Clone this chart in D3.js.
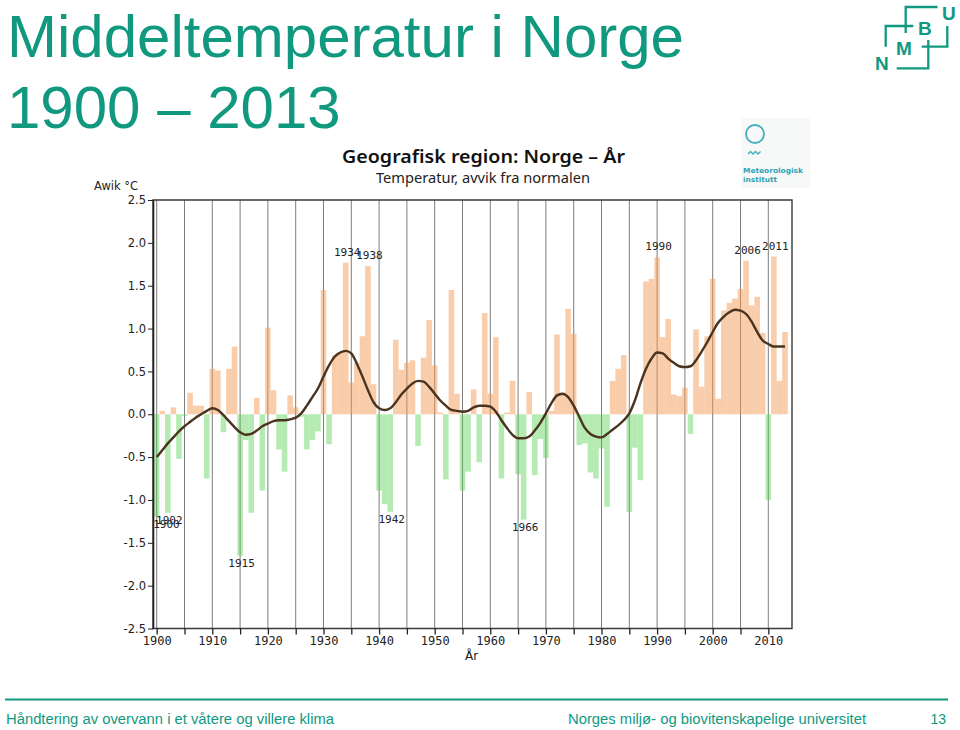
<!DOCTYPE html>
<html><head><meta charset="utf-8">
<script src="https://cdn.jsdelivr.net/npm/d3@7"></script>
<style>html,body{margin:0;padding:0;background:#fff;}svg{display:block;}</style>
</head><body>
<script>
// ---------- data ----------
const years = [
 1900,1901,1902,1903,1904,1905,1906,1907,1908,1909,
 1910,1911,1912,1913,1914,1915,1916,1917,1918,1919,
 1920,1921,1922,1923,1924,1925,1926,1927,1928,1929,
 1930,1931,1932,1933,1934,1935,1936,1937,1938,1939,
 1940,1941,1942,1943,1944,1945,1946,1947,1948,1949,
 1950,1951,1952,1953,1954,1955,1956,1957,1958,1959,
 1960,1961,1962,1963,1964,1965,1966,1967,1968,1969,
 1970,1971,1972,1973,1974,1975,1976,1977,1978,1979,
 1980,1981,1982,1983,1984,1985,1986,1987,1988,1989,
 1990,1991,1992,1993,1994,1995,1996,1997,1998,1999,
 2000,2001,2002,2003,2004,2005,2006,2007,2008,2009,
 2010,2011,2012,2013];
const anomaly = [
 -1.20,0.04,-1.15,0.08,-0.52,-0.02,0.25,0.10,0.10,-0.75,
 0.53,0.51,-0.21,0.53,0.79,-1.65,-0.30,-1.15,0.19,-0.89,
 1.01,0.28,-0.41,-0.67,0.22,0.08,-0.03,-0.41,-0.30,-0.20,
 1.45,-0.35,0.69,0.72,1.77,0.37,0.60,0.91,1.73,0.35,
 -0.89,-1.05,-1.14,0.87,0.52,0.60,0.63,-0.37,0.66,1.10,
 0.57,0.02,-0.76,1.45,0.24,-0.89,-0.67,0.29,-0.56,1.18,
 0.24,0.90,-0.75,0.02,0.39,-0.70,-1.23,0.26,-0.71,-0.29,
 -0.51,0.04,0.93,0.25,1.23,0.94,-0.36,-0.34,-0.68,-0.75,
 -0.40,-1.08,0.39,0.53,0.69,-1.14,-0.39,-0.77,1.55,1.58,
 1.83,0.90,1.11,0.23,0.21,0.31,-0.23,0.99,0.32,0.91,
 1.58,0.18,1.21,1.30,1.35,1.46,1.79,1.27,1.37,0.95,
 -1.00,1.84,0.39,0.96];
const smoothed = [
 -0.50,-0.42,-0.34,-0.27,-0.20,-0.14,-0.09,-0.04,0.00,0.04,
 0.07,0.05,-0.01,-0.08,-0.15,-0.21,-0.24,-0.23,-0.19,-0.14,
 -0.11,-0.08,-0.07,-0.07,-0.06,-0.04,0.01,0.10,0.20,0.30,
 0.44,0.57,0.67,0.72,0.74,0.71,0.59,0.44,0.28,0.14,
 0.07,0.05,0.07,0.14,0.23,0.30,0.36,0.39,0.38,0.32,
 0.24,0.16,0.10,0.05,0.04,0.03,0.04,0.08,0.10,0.10,
 0.09,0.03,-0.07,-0.16,-0.24,-0.28,-0.28,-0.26,-0.19,-0.10,
 0.01,0.13,0.22,0.24,0.20,0.10,-0.03,-0.16,-0.23,-0.26,
 -0.27,-0.23,-0.18,-0.13,-0.07,0.01,0.16,0.36,0.53,0.65,
 0.72,0.71,0.65,0.60,0.56,0.55,0.56,0.63,0.73,0.84,
 0.96,1.07,1.14,1.19,1.22,1.21,1.17,1.08,0.96,0.86,
 0.82,0.79,0.79,0.79];
const yTicks = [-2.5,-2.0,-1.5,-1.0,-0.5,0.0,0.5,1.0,1.5,2.0,2.5];
const yTickLabels = ["-2.5","-2.0","-1.5","-1.0","-0.5","0.0","0.5","1.0","1.5","2.0","2.5"];
const gridYears = [1900,1905,1910,1915,1920,1925,1930,1935,1940,1945,1950,1955,1960,1965,1970,1975,1980,1985,1990,1995,2000,2005,2010];
const xLabelYears = [1900,1910,1920,1930,1940,1950,1960,1970,1980,1990,2000,2010];
const extremeYears = [1900,1902,1915,1934,1938,1942,1966,1990,2006,2011];

const slideTitle = ["Middeltemperatur i Norge","1900 \u2013 2013"];
const chartTitle = "Geografisk region: Norge \u2013 \u00c5r";
const chartSubtitle = "Temperatur, avvik fra normalen";
const yAxisTitle = "Awik \u00b0C";
const xAxisTitle = "\u00c5r";
const footerLeft = "H\u00e5ndtering av overvann i et v\u00e5tere og villere klima";
const footerRight = "Norges milj\u00f8- og biovitenskapelige universitet";
const pageNo = "13";

// ---------- drawing ----------
const teal = "#10997f";
const svg = d3.select("body").append("svg").attr("width",960).attr("height",730);
svg.append("rect").attr("width",960).attr("height",730).attr("fill","#fff");

// slide title
svg.selectAll("text.title").data(slideTitle).enter().append("text")
  .attr("x",7).attr("y",(d,i)=>57+i*71)
  .attr("font-family","'Liberation Sans', Arial, sans-serif").attr("font-size",60)
  .attr("fill",teal).text(d=>d);

// NMBU logo
const logo = svg.append("g").attr("fill","none").attr("stroke",teal).attr("stroke-width",2.3);
logo.append("path").attr("d","M937.5,7 H905.7 V33 M885.7,46.7 V26 H913.3 M921.7,46.7 H947.3 V26 M928.3,40 V68.3 H896.7");
const lt = svg.append("g").attr("font-family","'Liberation Sans', Arial, sans-serif").attr("font-weight","bold")
  .attr("font-size",19).attr("fill",teal);
[["N",875,70],["M",896,55],["B",918,35],["U",942,20]].forEach(l=>lt.append("text").attr("x",l[1]).attr("y",l[2]).text(l[0]));

// met.no logo
svg.append("rect").attr("x",741).attr("y",118).attr("width",69).attr("height",70).attr("fill","#f7f8f8");
svg.append("circle").attr("cx",755).attr("cy",134).attr("r",9).attr("fill","none").attr("stroke","#45afbd").attr("stroke-width",1.8);
svg.append("path").attr("d","M748,154 l2.5,-2.5 l2.5,2.5 l2.5,-2.5 l2.5,2.5 l2.5,-2.5").attr("fill","none").attr("stroke","#45afbd").attr("stroke-width",1.4);
svg.append("text").attr("x",743).attr("y",173).attr("font-family","'DejaVu Sans', sans-serif").attr("font-weight","bold").attr("font-size",7).attr("fill","#2aa3b5").attr("textLength",60).attr("lengthAdjust","spacingAndGlyphs").text("Meteorologisk");
svg.append("text").attr("x",743).attr("y",182).attr("font-family","'DejaVu Sans', sans-serif").attr("font-weight","bold").attr("font-size",7).attr("fill","#2aa3b5").attr("textLength",34).attr("lengthAdjust","spacingAndGlyphs").text("institutt");

// chart titles
svg.append("text").attr("x",342).attr("y",163).attr("font-family","'Noto Sans', 'DejaVu Sans', sans-serif").attr("font-weight",600)
  .attr("font-size",18.5).attr("fill","#111").attr("textLength",283).attr("lengthAdjust","spacingAndGlyphs").text(chartTitle);
svg.append("text").attr("x",376).attr("y",183).attr("font-family","'Noto Sans', 'DejaVu Sans', sans-serif")
  .attr("font-size",13.5).attr("fill","#222").attr("textLength",214).attr("lengthAdjust","spacingAndGlyphs").text(chartSubtitle);

// scales
const x = d3.scaleLinear().domain([1900,2010]).range([156.7,768.3]);
const y = d3.scaleLinear().domain([-2.5,2.5]).range([628.5,200]);
const plotL = 153, plotR = 792, plotT = y(2.5), plotB = y(-2.5);
const bw = x(1901)-x(1900);

// gridlines
svg.append("g").selectAll("line").data(gridYears).enter().append("line")
  .attr("x1",d=>x(d)).attr("x2",d=>x(d)).attr("y1",plotT).attr("y2",plotB)
  .attr("stroke","#7d7d7d").attr("stroke-width",1);

// bars
const data = years.map((yr,i)=>({yr, v:anomaly[i]}));
svg.append("g").selectAll("rect").data(data).enter().append("rect")
  .attr("x",d=>x(d.yr)-bw/2).attr("width",bw)
  .attr("y",d=>y(Math.max(0,d.v))).attr("height",d=>Math.abs(y(d.v)-y(0)))
  .attr("fill",d=>d.v>=0?"#f39a55":"#5ad255").attr("fill-opacity",d=>d.v>=0?0.5:0.45);

// smoothed curve
const line = d3.line().x((d,i)=>x(years[i])).y(d=>y(d)).curve(d3.curveMonotoneX);
svg.append("path").datum(smoothed).attr("d",line).attr("fill","none")
  .attr("stroke","#4a3420").attr("stroke-width",2.4);

// frame
svg.append("path").attr("d",`M${plotL},${plotT} H${plotR} V${plotB} H${plotL} Z`)
  .attr("fill","none").attr("stroke","#3a3a3a").attr("stroke-width",1.4);

// y axis
const yAx = svg.append("g").attr("transform",`translate(${plotL},0)`)
  .call(d3.axisLeft(y).tickValues(yTicks).tickFormat((d,i)=>yTickLabels[i]).tickSize(5).tickPadding(2).tickSizeOuter(0));
yAx.select(".domain").attr("stroke","#222").attr("stroke-width",1.6);
yAx.selectAll(".tick line").attr("stroke","#222");
yAx.selectAll("text").attr("font-family","'DejaVu Sans', sans-serif").attr("font-size",11.5).attr("fill","#222");

// x axis
const xAx = svg.append("g").attr("transform",`translate(0,${plotB})`)
  .call(d3.axisBottom(x).tickValues(gridYears).tickFormat(d=>xLabelYears.includes(d)?String(d):"").tickSize(6).tickPadding(2).tickSizeOuter(0));
xAx.select(".domain").remove();
xAx.selectAll(".tick line").attr("stroke","#222").attr("stroke-width",1.3);
xAx.selectAll("text").attr("font-family","'DejaVu Sans Mono', monospace").attr("font-size",12).attr("fill","#222");

// axis titles
svg.append("text").attr("x",94).attr("y",190).attr("font-family","'DejaVu Sans', sans-serif").attr("font-size",11.5).attr("fill","#222").text(yAxisTitle);
svg.append("text").attr("x",465).attr("y",660).attr("font-family","'DejaVu Sans', sans-serif").attr("font-size",12).attr("fill","#222").text(xAxisTitle);

// extreme year labels
svg.append("g").selectAll("text").data(extremeYears).enter().append("text")
  .attr("x",d=>Math.max(x(d)+1.5,166.5))
  .attr("y",d=>{const v=anomaly[years.indexOf(d)]; return v>=0? y(v)-7 : y(v)+11;})
  .attr("text-anchor","middle").attr("font-family","'DejaVu Sans Mono', monospace").attr("font-size",11)
  .attr("fill","#222").text(d=>String(d));

// footer
svg.append("line").attr("x1",5).attr("x2",948).attr("y1",699.5).attr("y2",699.5).attr("stroke",teal).attr("stroke-width",2);
const ft = svg.append("g").attr("font-family","'Liberation Sans', Arial, sans-serif").attr("font-size",14).attr("fill",teal);
ft.append("text").attr("x",6).attr("y",724).attr("textLength",328).attr("lengthAdjust","spacingAndGlyphs").text(footerLeft);
ft.append("text").attr("x",568).attr("y",724).attr("textLength",298).attr("lengthAdjust","spacingAndGlyphs").text(footerRight);
ft.append("text").attr("x",946).attr("y",724).attr("text-anchor","end").text(pageNo);
</script>
</body></html>
